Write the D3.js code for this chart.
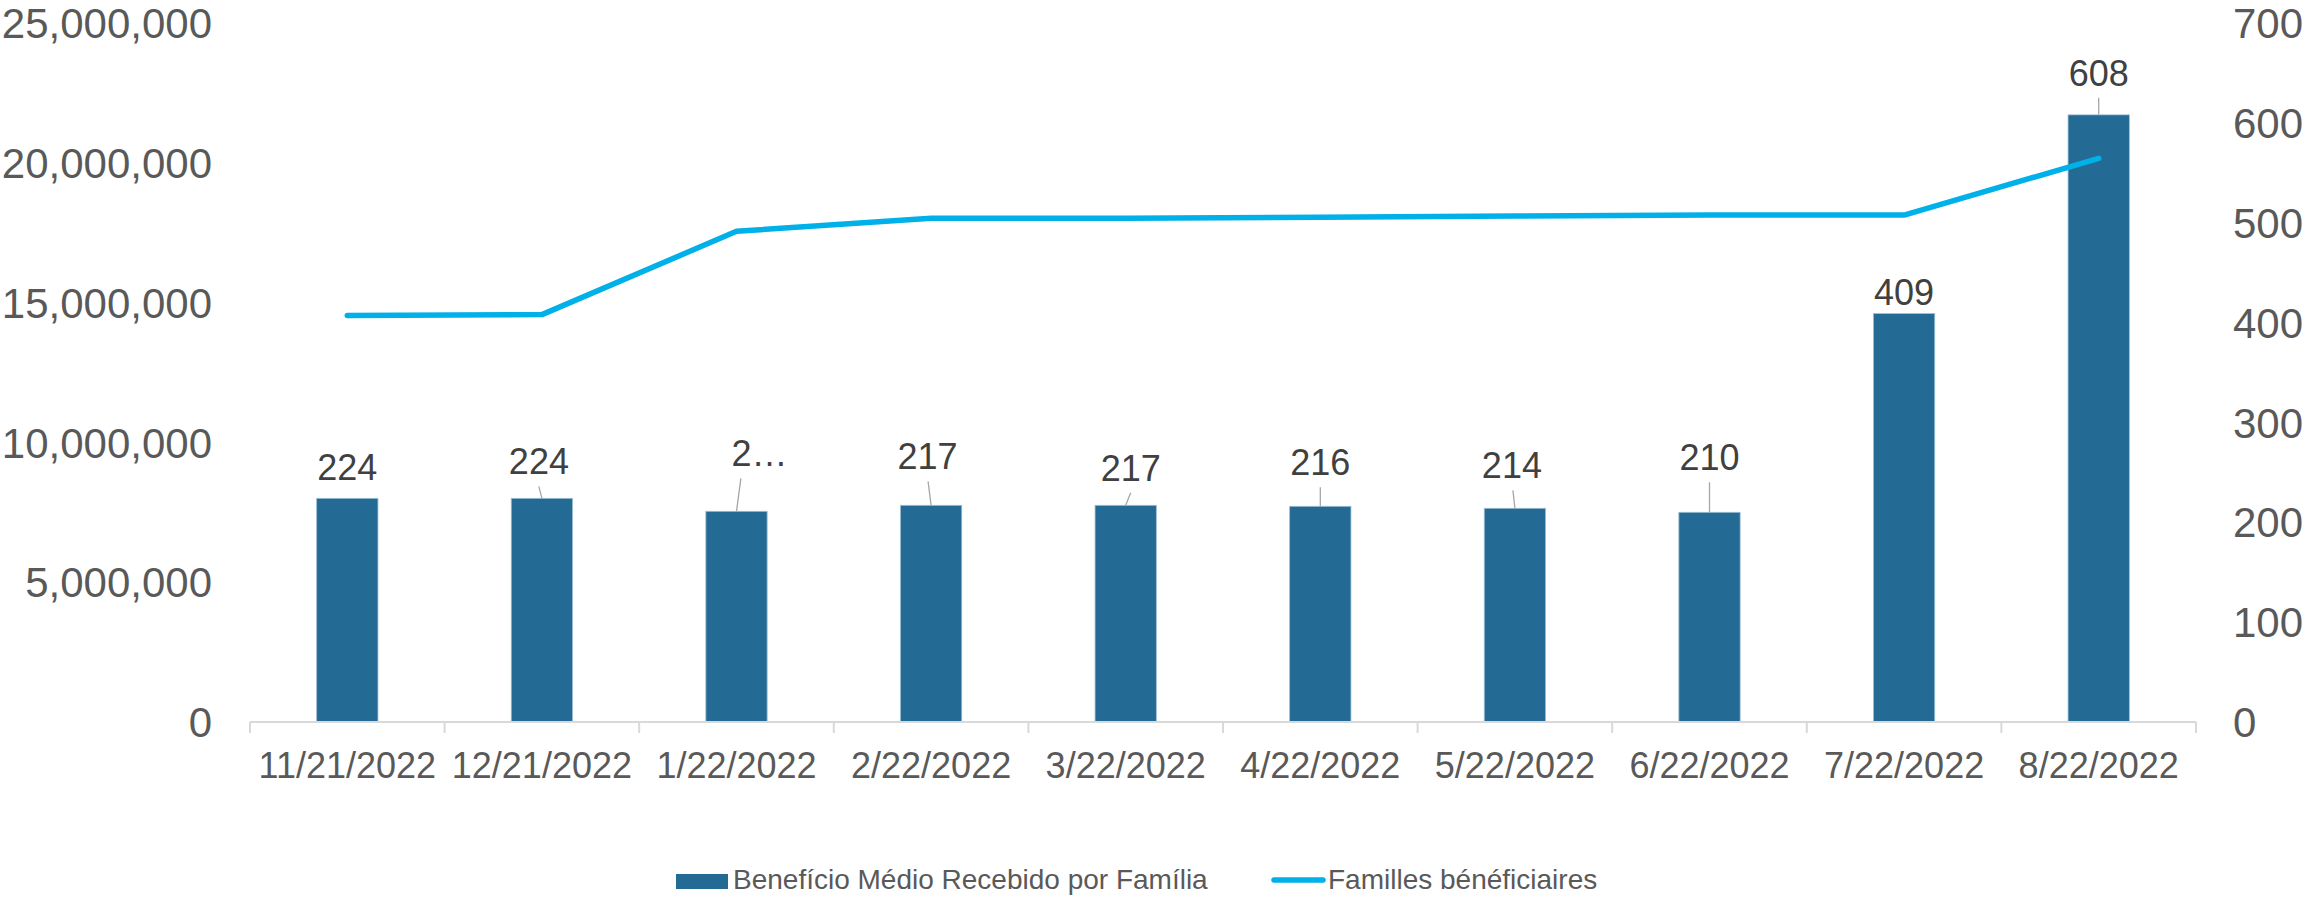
<!DOCTYPE html>
<html>
<head>
<meta charset="utf-8">
<script src="https://cdn.jsdelivr.net/npm/d3@7"></script>
<style>
  html, body { margin: 0; padding: 0; background: #ffffff; }
  svg { display: block; font-family: "Liberation Sans", Arial, sans-serif; }
</style>
</head>
<body>
<svg id="chart" width="2311" height="898"></svg>
<script>
// ---- data ----
const categories = ["11/21/2022", "12/21/2022", "1/22/2022", "2/22/2022", "3/22/2022",
                    "4/22/2022", "5/22/2022", "6/22/2022", "7/22/2022", "8/22/2022"];
const beneficioMedio = [224, 224, 211, 217, 217, 216, 214, 210, 409, 608];
const familles = [14540000, 14570000, 17550000, 18020000, 18020000, 18050000, 18100000, 18130000, 18130000, 20160000];
const barLabels = ["224", "224", "2…", "217", "217", "216", "214", "210", "409", "608"];
const leftTicks = [0, 5000000, 10000000, 15000000, 20000000, 25000000];
const rightTicks = [0, 100, 200, 300, 400, 500, 600, 700];
const seriesNames = ["Benefício Médio Recebido por Família", "Familles bénéficiaires"];
// label nudges: [dx of text centre, dy of baseline from bar top, dx of leader start]
const labelNudges = [[0, -18, 0], [-3, -24, -3], [23, -45, 4.4], [-3.5, -36, -3], [5, -24.6, 5],
                     [0, -31, 0], [-3, -30, -2], [0, -42, 0], [0, -8.6, 0], [0, -29, 0]];

// ---- styles ----
const barColor = "#236B94";
const lineColor = "#00B0E8";
const axisText = "#595959";
const labelText = "#404040";

const svg = d3.select("#chart");
svg.append("rect").attr("width", 2311).attr("height", 898).attr("fill", "#fff");

const x0 = 250, x1 = 2196, yBase = 722, yTop = 23;

const x = d3.scaleBand().domain(categories).range([x0, x1])
  .paddingInner(0.685).paddingOuter(0.3425);
const xStep = x.step();
const yLeft = d3.scaleLinear().domain([0, 25000000]).range([yBase, yTop]);
const yRight = d3.scaleLinear().domain([0, 700]).range([yBase, yTop]);

// left axis labels
const fmt = d3.format(",");
svg.append("g").selectAll("text").data(leftTicks).join("text")
  .attr("x", 212).attr("y", d => yLeft(d)).attr("dy", "0.36em")
  .attr("text-anchor", "end").attr("font-size", 42).attr("fill", axisText)
  .text(d => fmt(d));

// right axis labels
svg.append("g").selectAll("text").data(rightTicks).join("text")
  .attr("x", 2233).attr("y", d => yRight(d)).attr("dy", "0.36em")
  .attr("text-anchor", "start").attr("font-size", 42).attr("fill", axisText)
  .text(d => d);

// bars
svg.append("g").selectAll("rect").data(beneficioMedio).join("rect")
  .attr("x", (d, i) => x(categories[i]))
  .attr("y", d => yRight(d))
  .attr("width", x.bandwidth())
  .attr("height", d => yBase - yRight(d))
  .attr("fill", barColor)
  .attr("stroke", "#9fbfd3").attr("stroke-width", 0.8);

// x axis line + ticks
const axisG = svg.append("g");
axisG.append("line").attr("x1", x0).attr("x2", x1).attr("y1", yBase).attr("y2", yBase)
  .attr("stroke", "#d9d9d9").attr("stroke-width", 2);
const boundaries = d3.range(categories.length + 1).map(i => x0 + i * xStep);
axisG.selectAll("line.tick").data(boundaries).join("line").attr("class", "tick")
  .attr("x1", d => d).attr("x2", d => d).attr("y1", yBase).attr("y2", yBase + 11)
  .attr("stroke", "#d9d9d9").attr("stroke-width", 2);
axisG.selectAll("text").data(categories).join("text")
  .attr("x", d => x(d) + x.bandwidth() / 2).attr("y", 778)
  .attr("text-anchor", "middle").attr("font-size", 36).attr("fill", axisText)
  .text(d => d);

// line
const cx = i => x(categories[i]) + x.bandwidth() / 2;
const line = d3.line().x((d, i) => cx(i)).y(d => yLeft(d));
svg.append("path").datum(familles).attr("d", line)
  .attr("fill", "none").attr("stroke", lineColor).attr("stroke-width", 5.5)
  .attr("stroke-linecap", "round").attr("stroke-linejoin", "round");

// data labels with leader lines
const lab = svg.append("g");
beneficioMedio.forEach((v, i) => {
  const [dx, dy, ldx] = labelNudges[i];
  const top = yRight(v);
  const base = top + dy;
  if (dy < -20) {
    lab.append("line")
      .attr("x1", cx(i) + ldx).attr("y1", base + 12)
      .attr("x2", cx(i)).attr("y2", top)
      .attr("stroke", "#a6a6a6").attr("stroke-width", 1.3);
  }
  lab.append("text")
    .attr("x", cx(i) + dx).attr("y", base)
    .attr("text-anchor", "middle").attr("font-size", 36).attr("fill", labelText)
    .text(barLabels[i]);
});

// legend
const leg = svg.append("g");
leg.append("rect").attr("x", 676).attr("y", 874).attr("width", 52).attr("height", 15).attr("fill", barColor);
leg.append("text").attr("x", 733).attr("y", 889).attr("font-size", 28).attr("fill", axisText)
  .text(seriesNames[0]);
leg.append("line").attr("x1", 1274).attr("x2", 1323).attr("y1", 880).attr("y2", 880)
  .attr("stroke", lineColor).attr("stroke-width", 5.5).attr("stroke-linecap", "round");
leg.append("text").attr("x", 1328).attr("y", 889).attr("font-size", 28).attr("fill", axisText)
  .text(seriesNames[1]);
</script>
</body>
</html>
